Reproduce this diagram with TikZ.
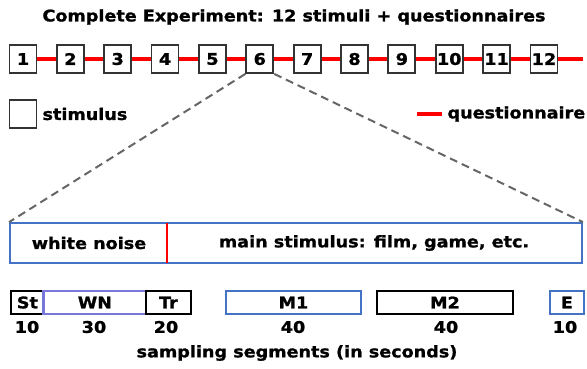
\documentclass[tikz,border=0pt]{standalone}
\usepackage{fontspec}
\setmainfont{DejaVu Sans}[FakeStretch=1.1, BoldFeatures={FakeBold=1.2}]
\begin{document}
\begin{tikzpicture}[x=1pt,y=-1pt,
  font=\bfseries\fontsize{16}{19}\selectfont,
  stim/.style={draw=black!80, line width=1.8pt, fill=white, minimum width=27pt, minimum height=28pt, inner sep=0pt},
  quest/.style={draw=red, line width=4.5pt},
  seg/.style={draw, line width=1.8pt, minimum height=23pt, inner sep=0pt, anchor=west},
  zoomline/.style={draw=black!60, line width=2pt, dash pattern=on 8pt off 5pt}
]
\definecolor{myblue}{RGB}{68,114,196}
\definecolor{mypurple}{RGB}{120,120,220}
\useasboundingbox (0,0) rectangle (587,368);

\node (title) at (294,17) {Complete Experiment: 12 stimuli + questionnaires};

\foreach \i in {1,...,12} {
  \node[stim] (b\i) at ({23+47.36*(\i-1)},59) {\i};
}
\coordinate (qend) at (583,59);
\foreach \i [count=\j from 2] in {1,...,11} {
  \draw[quest] (b\i.east) -- (b\j.west);
}
\draw[quest] (b12.east) -- (qend);

% legend
\node[stim] (legbox) at (23,114) {};
\node[anchor=west] (legstim) at (39,114) {stimulus};
\coordinate (lq1) at (417,114);
\coordinate (lq2) at (442,114);
\draw[quest] (lq1) -- (lq2);
\node[anchor=west] (legq) at (444,114) {questionnaire};

% expanded stimulus
\node[draw=myblue, line width=1.8pt, minimum width=572pt, minimum height=40pt, inner sep=0pt] (big) at (296,243) {};
\coordinate (div) at (167,223);
\coordinate (divb) at (167,263);
\draw[red, line width=1.8pt] (div) -- (divb);
\node (wn) at (89,243) {white noise};
\node (ms) at (374,243) {main stimulus: film, game, etc.};

\draw[zoomline] (b6.south west) -- (big.north west);
\draw[zoomline] (b6.south east) -- (big.north east);

% segments
\node[seg, draw=black, minimum width=33pt] (st) at (10,302.5) {St};
\node[seg, draw=mypurple, minimum width=102pt] (wns) at (43,302.5) {WN};
\node[seg, draw=black, minimum width=45pt] (tr) at (145,302.5) {Tr};
\draw[mypurple, line width=1.8pt] (wns.north west) -- (wns.south west);
\node[seg, draw=myblue, minimum width=135pt] (m1) at (225,302.5) {M1};
\node[seg, draw=black, minimum width=136pt] (m2) at (376,302.5) {M2};
\node[seg, draw=myblue, minimum width=34pt] (e) at (549,302.5) {E};

\node (n1) at (27,327) {10};
\node (n2) at (94,327) {30};
\node (n3) at (166,327) {20};
\node (n4) at (293,327) {40};
\node (n5) at (446,327) {40};
\node (n6) at (565,327) {10};

\node (cap) at (297,353) {sampling segments (in seconds)};
\end{tikzpicture}
\end{document}
